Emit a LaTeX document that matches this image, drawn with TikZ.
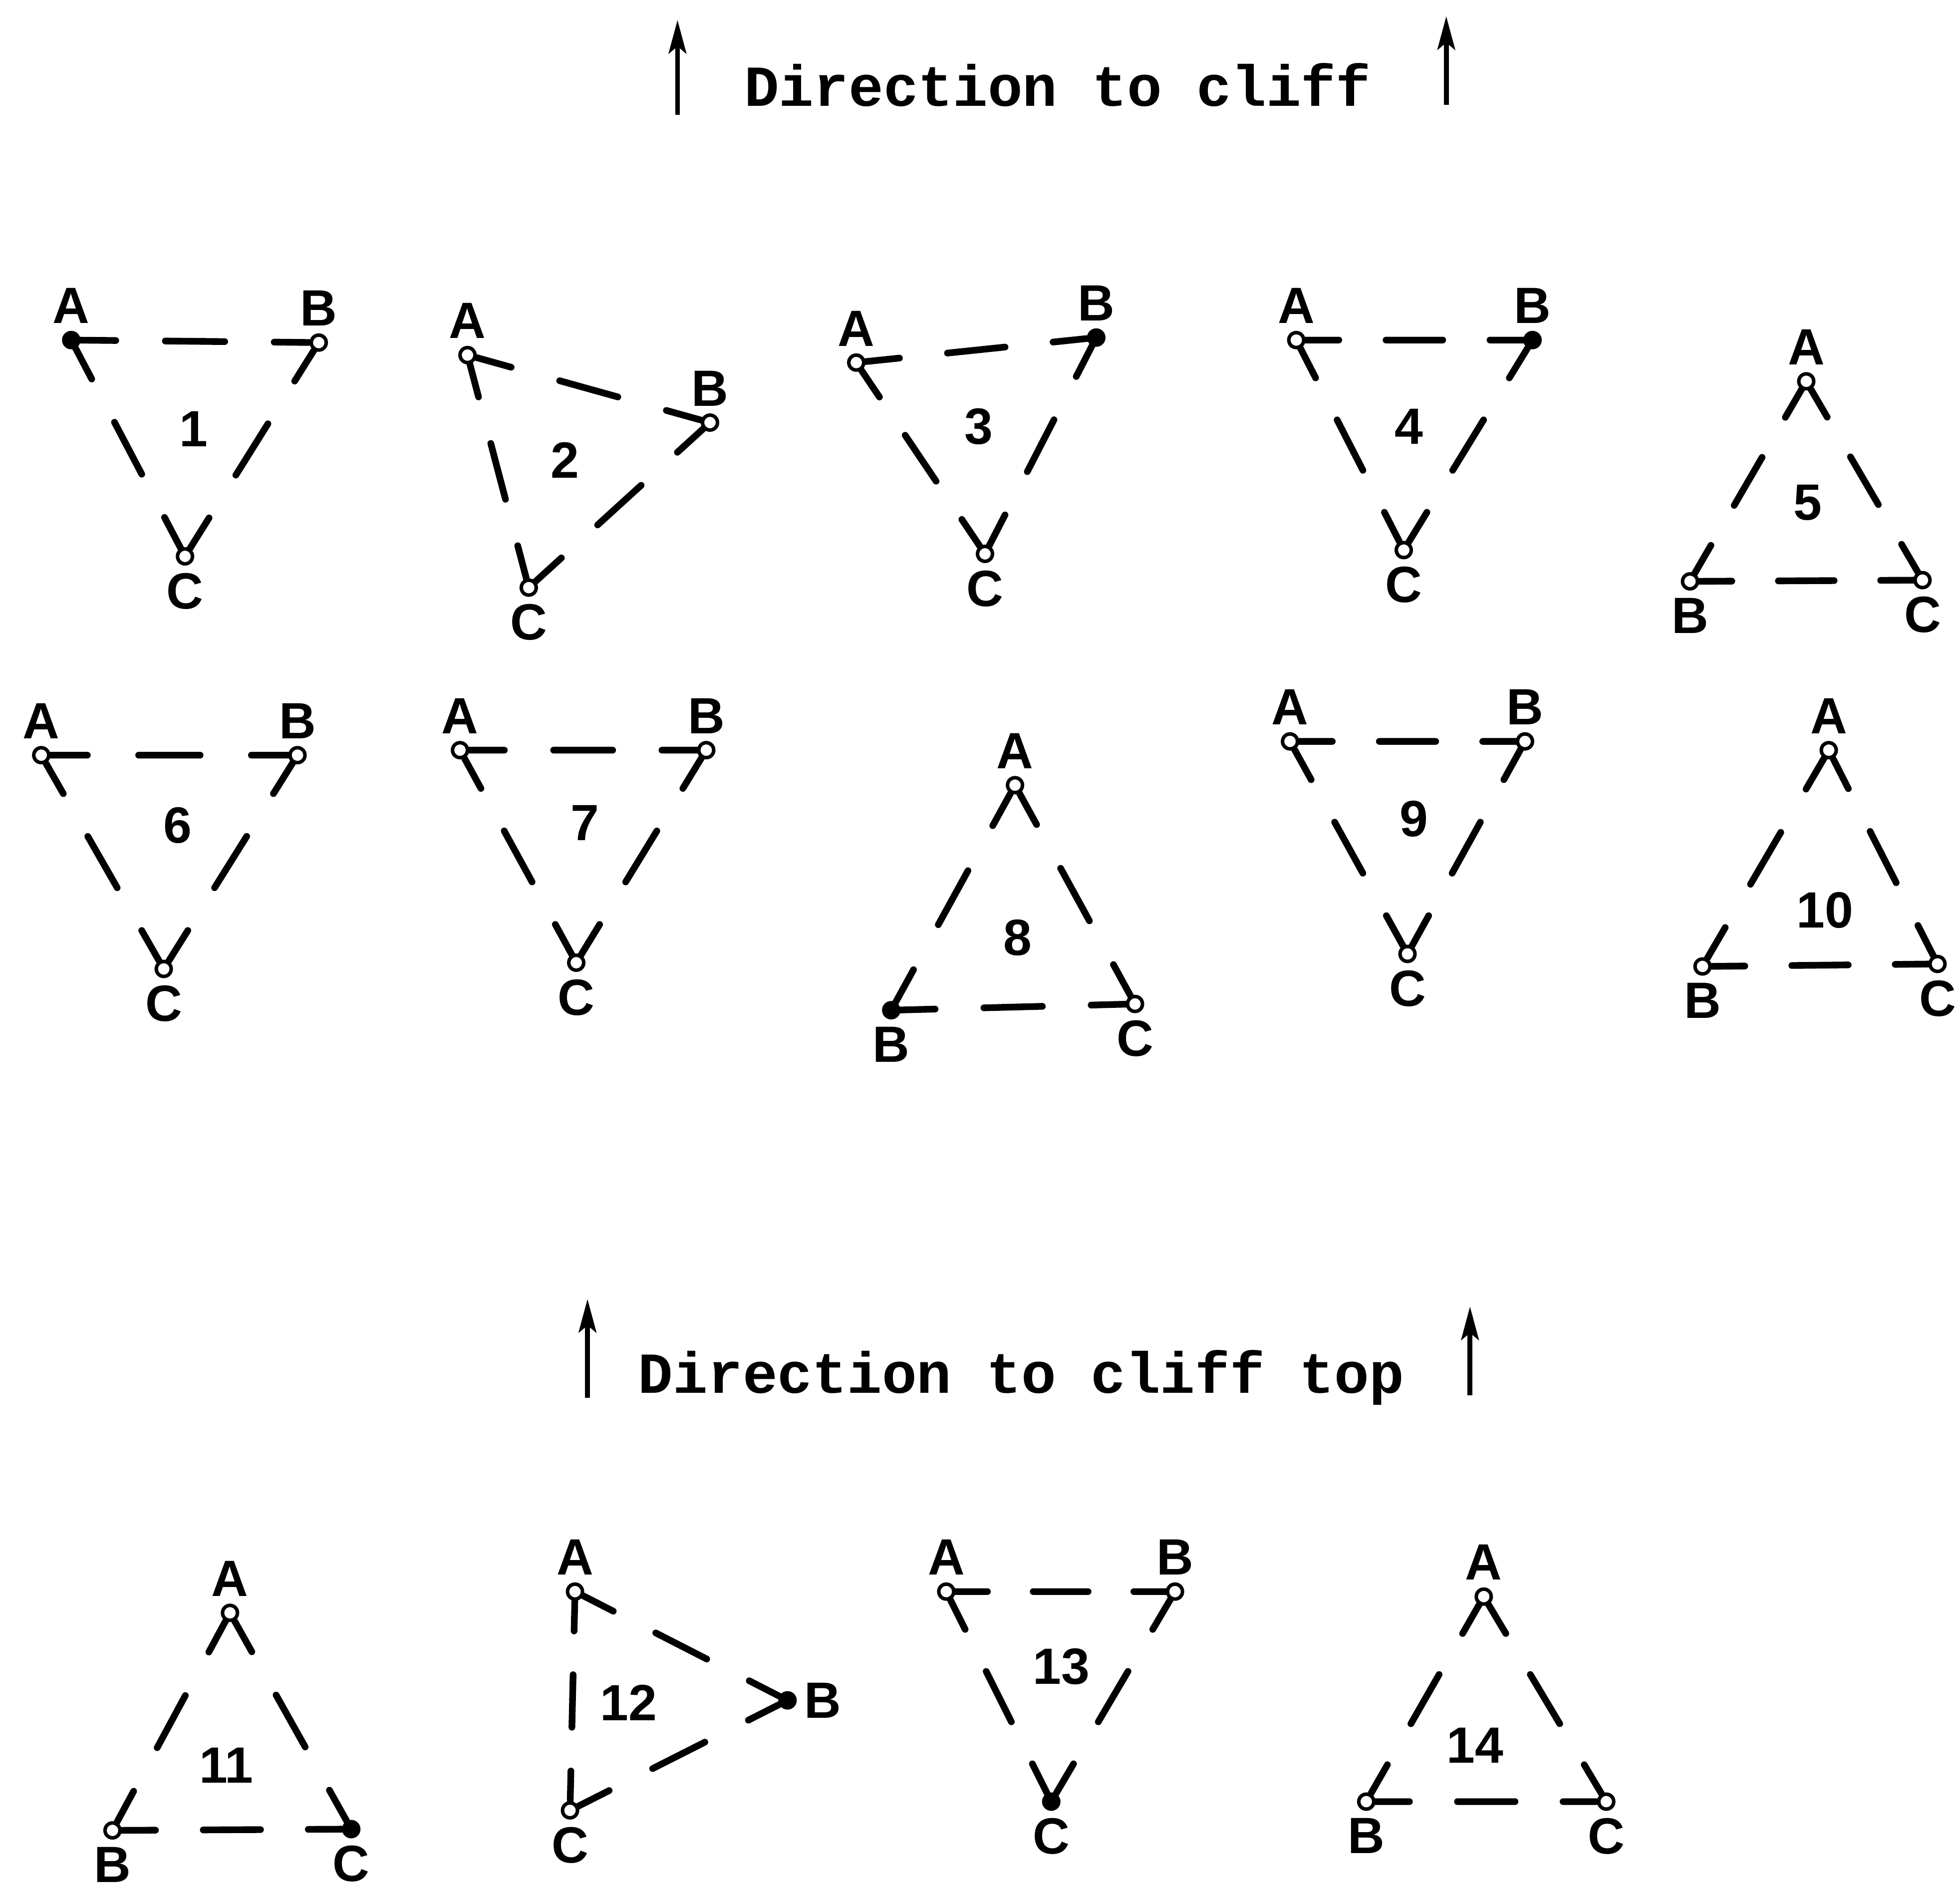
\documentclass[tikz,border=0pt]{standalone}
\usepackage{fontspec}
\newfontfamily\lblfont{Liberation Sans}
\newfontfamily\ttlfont{Liberation Mono}
\usetikzlibrary{calc,arrows.meta}

\begin{document}
\begin{tikzpicture}[
    x=0.025cm, y=-0.025cm,
    vtx/.style={circle, draw, line width=2pt, inner sep=0pt, minimum size=8.5pt},
    lbl/.style={font={\lblfont\bfseries\fontsize{29}{29}\selectfont}, inner sep=0pt},
    dashseg/.style={line width=3.8pt, line cap=round},
    ttl/.style={font={\ttlfont\bfseries\fontsize{33}{33}\selectfont}, inner sep=0pt},
    uparrow/.style={-{Stealth[length=19pt, width=10pt, inset=4pt]}, line width=2.8pt},
    label distance=4pt
]
    \useasboundingbox (0,0) rectangle (1568,1518);

    % headings
    \node[ttl] (head1) at (846,68) {Direction to cliff};
    \coordinate (u1s) at (542,92);  \coordinate (u1e) at (542,16);
    \coordinate (u2s) at (1157,84); \coordinate (u2e) at (1157,13);
    \draw[uparrow] (u1s) -- (u1e);
    \draw[uparrow] (u2s) -- (u2e);

    \node[ttl] (head2) at (817,1102) {Direction to cliff top};
    \coordinate (u3s) at (470,1118);  \coordinate (u3e) at (470,1039);
    \coordinate (u4s) at (1176,1116); \coordinate (u4e) at (1176,1045);
    \draw[uparrow] (u3s) -- (u3e);
    \draw[uparrow] (u4s) -- (u4e);

    % triangles: number / A / B / C / number pos / vertex fills / label angles
    \foreach \n/\ax/\ay/\bx/\by/\cx/\cy/\nx/\ny/\fa/\fb/\fc/\da/\db/\dc in {
        1/57/272/255/274/148/445/155/343/black/white/white/90/90/270,
        2/374/284/568/338/423/470/452/368/white/white/white/90/90/270,
        3/685/290/877/270/788/443/783/341/white/black/white/90/90/270,
        4/1037/272/1226/272/1123/440/1127/341/white/black/white/90/90/270,
        5/1445/305/1352/465/1538/464/1446/402/white/white/white/90/270/270,
        6/33/604/238/604/131/775/142/660/white/white/white/90/90/270,
        7/368/600/565/600/461/770/468/658/white/white/white/90/90/270,
        8/812/628/713/808/908/803/814/750/white/black/white/90/270/270,
        9/1032/593/1220/593/1126/763/1131/655/white/white/white/90/90/270,
        10/1463/600/1362/773/1550/771/1460/728/white/white/white/90/270/270,
        11/184/1290/90/1464/281/1463/181/1412/white/white/black/90/270/270,
        12/460/1273/630/1360/456/1448/503/1362/white/black/white/90/0/270,
        13/757/1273/940/1273/841/1441/849/1333/white/white/black/90/90/270,
        14/1187/1277/1093/1441/1285/1441/1180/1396/white/white/white/90/270/270}{
        \node[vtx, fill=\fa, label={[lbl, name=la\n]\da:A}] (a\n) at (\ax,\ay) {};
        \node[vtx, fill=\fb, label={[lbl, name=lb\n]\db:B}] (b\n) at (\bx,\by) {};
        \node[vtx, fill=\fc, label={[lbl, name=lc\n]\dc:C}] (c\n) at (\cx,\cy) {};
        \node[lbl] (num\n) at (\nx,\ny) {\n};
        \foreach \u/\v in {a/b, b/c, c/a}
            \draw[dashseg] (\u\n) -- ($(\u\n.center)!.18!(\v\n.center)$)
                ($(\u\n.center)!.38!(\v\n.center)$) -- ($(\u\n.center)!.62!(\v\n.center)$)
                ($(\u\n.center)!.82!(\v\n.center)$) -- (\v\n);
    }
\end{tikzpicture}
\end{document}
